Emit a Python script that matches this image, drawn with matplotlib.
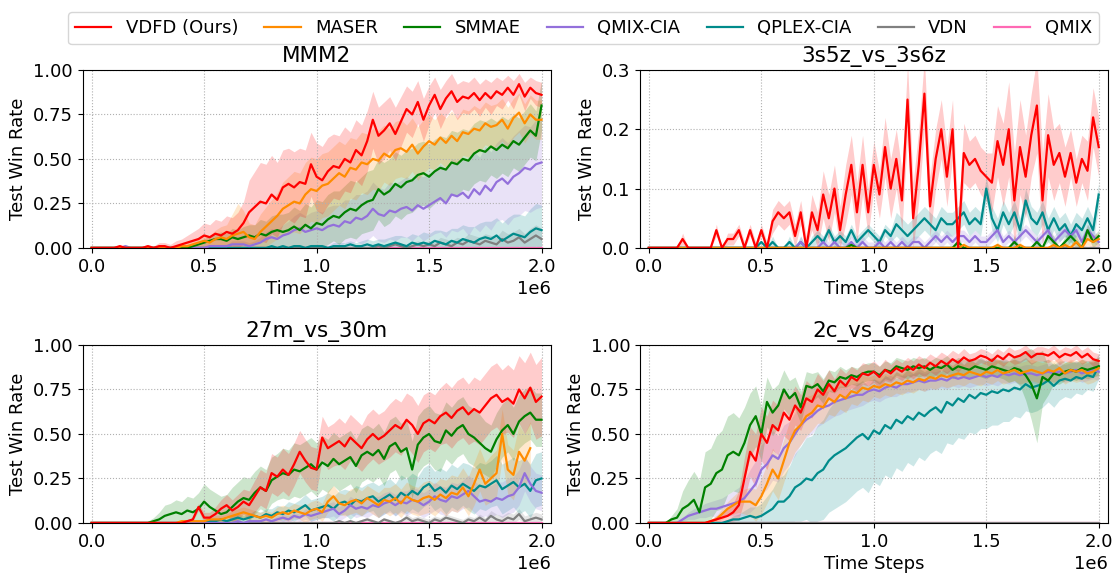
import numpy as np
import matplotlib
matplotlib.use('Agg')
import matplotlib.pyplot as plt

# training steps: one evaluation every 25k steps
steps = np.linspace(0, 2e6, 81)
nan = np.nan

METHODS = ['VDFD (Ours)', 'MASER', 'SMMAE', 'QMIX-CIA', 'QPLEX-CIA', 'VDN', 'QMIX']
COLORS = ['red', 'darkorange', 'green', 'mediumpurple', 'darkcyan', 'gray', 'hotpink']
MAPS = ['MMM2', '3s5z_vs_3s6z', '27m_vs_30m', '2c_vs_64zg']

# ── MMM2 (win rate in %) ──────────────────────────────────────────────────────
mmm2_vdfd = [0,0,0,0,0,1,0,0,0,0, 1,0,1,1,0,1,2,3,4,5, 7,6,8,7,9,8,10,14,20,23,
             26,25,30,27,34,36,34,37,36,47, 40,38,43,46,45,50,48,55,52,60,
             72,63,66,70,64,71,78,75,82,72, 80,86,78,84,88,82,85,84,87,83,
             87,84,88,86,90,86,92,85,90,87, 86]
mmm2_vdfd_sd = [0,0,0,0,0,1,0,1,1,1, 1,1,2,2,2,3,3,4,5,6, 7,7,8,8,9,9,10,12,18,20,
                22,22,22,21,21,20,20,19,19,18, 19,19,19,18,18,18,17,17,17,17,
                16,16,16,15,15,14,13,13,12,12, 11,10,11,10,10,10,9,9,9,9,
                8,9,8,8,7,8,6,8,6,7, 7]
mmm2_maser = [0,0,0,0,0,0,0,0,0,0, 0,0,0,0,0,0,1,1,2,3, 4,3,5,6,5,7,8,9,6,5,
              9,12,15,18,22,24,26,25,30,33, 32,35,36,39,42,40,45,44,48,47,
              50,49,53,51,55,56,54,58,53,57, 60,58,62,59,63,60,65,64,67,66,
              70,68,69,72,67,73,76,70,75,72, 72]
mmm2_maser_sd = [0,0,0,0,0,0,0,0,0,0, 0,0,0,0,1,1,1,2,2,3, 4,4,5,6,8,12,17,12,8,8,
                 10,11,12,13,15,16,17,17,18,18, 18,18,18,18,18,18,17,17,17,17,
                 17,17,16,16,16,16,15,15,15,15, 15,14,14,14,14,13,13,13,13,12,
                 12,12,12,12,12,11,11,11,11,11, 11]
mmm2_smmae = [0,0,0,0,0,0,0,0,0,0, 0,0,0,0,0,0,0,0,1,2, 3,4,5,5,4,6,5,6,7,6,
              8,7,9,10,9,10,12,10,13,11, 14,13,16,18,17,20,22,21,24,26,
              27,33,30,32,36,34,37,38,41,42, 40,43,45,44,48,47,50,49,53,55,
              54,57,55,58,56,60,58,62,66,63, 80]
mmm2_smmae_sd = [0,0,0,0,0,0,0,0,0,0, 0,0,0,0,0,0,0,1,1,1, 2,3,3,4,4,5,5,6,6,7,
                 8,8,9,9,10,10,11,11,12,12, 13,13,14,14,15,15,16,16,16,17,
                 17,17,18,18,18,18,18,18,18,18, 18,18,18,18,18,18,17,17,17,17,
                 17,16,16,16,16,15,15,15,15,14, 14]
mmm2_qmixcia = [0,0,0,0,0,0,1,0,0,0, 0,0,0,0,0,0,0,0,0,0, 0,1,1,1,1,2,2,2,1,2,
                3,5,6,5,7,8,10,11,9,10, 11,10,12,13,12,15,14,17,16,18,
                22,19,18,21,20,22,23,21,24,22, 24,26,28,25,30,29,31,28,33,30,
                35,32,37,39,36,40,42,45,44,47, 48]
mmm2_qmixcia_sd = [0,0,0,0,0,0,1,0,0,0, 0,0,0,0,0,0,0,0,0,0, 0,1,1,1,1,2,2,2,2,2,
                   3,4,5,5,6,7,8,9,9,10, 10,10,11,11,12,12,13,13,14,14,
                   15,15,15,16,16,16,17,17,17,18, 18,18,19,19,20,20,20,21,21,21,
                   22,22,22,23,23,23,24,24,24,25, 25]
mmm2_qplexcia = [0,0,0,0,0,0,0,0,0,0, 0,0,0,0,0,0,0,0,0,0, 0,0,0,0,0,0,0,0,0,0,
                 0,0,1,0,1,0,1,1,0,1, 1,1,0,1,1,1,2,1,1,2,
                 1,2,1,2,3,2,1,3,2,3, 2,4,3,2,4,3,5,4,3,5,
                 6,5,7,4,6,8,7,6,9,11, 10]
mmm2_qplexcia_sd = [0,0,0,0,0,0,0,0,0,0, 0,0,0,0,0,0,0,0,0,0, 0,0,0,0,0,0,0,0,0,0,
                    0,0,1,1,1,1,1,1,1,1, 1,1,1,2,2,2,2,2,3,3,
                    3,3,4,4,4,5,5,5,5,6, 6,6,7,7,7,8,8,8,9,9,
                    9,10,10,10,11,11,12,12,13,14, 14]
mmm2_vdn = [0,0,0,0,0,0,0,0,0,0, 0,0,0,0,0,0,0,0,0,0, 0,0,0,0,0,0,0,0,0,0,
            0,0,0,0,0,0,0,0,0,0, 0,0,0,0,0,0,0,0,0,0,
            0,1,0,1,2,1,0,1,2,1, 2,1,3,2,1,3,2,4,3,2,
            4,3,2,5,3,4,6,3,5,7, 5]
mmm2_vdn_sd = [0,0,0,0,0,0,0,0,0,0, 0,0,0,0,0,0,0,0,0,0, 0,0,0,0,0,0,0,0,0,0,
               0,0,0,0,0,0,0,0,0,0, 0,0,0,0,0,0,0,0,0,0,
               0,1,1,1,2,2,1,2,2,2, 2,2,3,3,3,3,3,4,4,4,
               4,4,4,5,5,5,5,5,6,6, 6]
mmm2_qmix = [0] * 81
mmm2_qmix_sd = [0] * 81

# ── 3s5z_vs_3s6z ──────────────────────────────────────────────────────────────
s5z_vdfd = [0,0,0,0,0,0,1.5,0,0,0, 0,0,3,0,1.5,1.5,3,0,3,0, 3,0,4.5,6,5,6,2,6,0,6,
            3,9,5,10,3,9,14,6,14,6, 14,9,17,10,15,8,25,5,14,26,
            7,15,20,12,20,0,16,14,15,13, 12,11,18,14,20,8,17,12,19,24,
            8,19,14,16,12,16,11,15,13,22, 17]
s5z_vdfd_sd = [0,0,0,0,0,0,1,0,0,0, 0,0,1,0,1,1,1,1,1,1, 1,1,2,2,2,2,2,2,2,3,
               3,4,4,4,4,5,5,5,5,4, 4,4,5,5,5,5,6,6,6,6,
               5,5,5,5,5,5,5,4,4,4, 4,5,6,7,8,8,8,7,7,8,
               8,7,6,5,5,4,4,4,5,5, 5]
s5z_maser = [0,0,0,0,0,0,0,0,0,0, 0,0,0,0,0,0,0,0,0,0, 0,0,0,0,0,0,0,0,0,0,
             0,0,0,0,0,0,0,0,0,0, 0,0,0,0,0,0,0,0,0,0,
             0,0,0,0,0,0,0.5,0,0,0, 0,0,0.5,0,0,0,0.5,0,0,0,
             0,0,0.5,0,0.5,0,1,0,1.5,1, 1.5]
s5z_maser_sd = [0,0,0,0,0,0,0,0,0,0, 0,0,0,0,0,0,0,0,0,0, 0,0,0,0,0,0,0,0,0,0,
                0,0,0,0,0,0,0,0,0,0, 0,0,0,0,0,0,0,0,0,0,
                0,0,0,0,0,0,0.5,0,0,0, 0,0,0.5,0,0,0,0.5,0,0,0,
                0,0,0.5,0.5,0.5,0.5,1,0.5,1,1, 1]
s5z_smmae = [0,0,0,0,0,0,0,0,0,0, 0,0,0,0,0,0,0,0,0,0, 0,0,0,0,0,0,0,0,0,0,
             0,0,0,0,0,0,0.5,0,0,0, 0,0,0,0,0,0,0,0,0,0,
             0,0,0,0,0,1,0,0,0,0, 0,0,0,0,0,1,0,0,0,1,
             0,2,1,0,1,2,1,0,3,1, 2]
s5z_smmae_sd = [0,0,0,0,0,0,0,0,0,0, 0,0,0,0,0,0,0,0,0,0, 0,0,0,0,0,0,0,0,0,0,
                0,0,0,0,0,0,0.5,0,0,0, 0,0,0,0,0,0,0,0,0,0,
                0,0,0,0,0,1,0,0,0,0, 0,0,0,0,0,1,0,0,0,1,
                0,1,1,0,1,1,1,0,1,1, 1]
s5z_qmixcia = [0,0,0,0,0,0,0,0,0,0, 0,0,0,0,0,0,0,0,0,0, 0,0,0,0,0,0,0,1,0,0,
               0,1,0,1,0,0,1,0,1,0, 0,1,0,1,0,1,0,1,1,0,
               1,2,1,2,1,2,2,1,2,1, 1,2,3,1,2,1,2,3,2,1,
               2,3,1,2,3,2,3,1,3,2, 1]
s5z_qmixcia_sd = [0,0,0,0,0,0,0,0,0,0, 0,0,0,0,0,0,0,0,0,0, 0,0,0,0,0,0,0,1,0,0,
                  1,1,1,1,1,1,1,1,1,1, 1,1,1,1,1,1,1,1,1,1,
                  1,1,1,1,1,1,1,1,1,1, 1,1,1,1,1,1,1,1,1,1,
                  1,1,1,1,1,1,1,1,1,1, 1]
s5z_qplexcia = [0,0,0,0,0,0,0,0,0,0, 0,0,0,0,0,0,0,0,0,0, 1,0,1,0,0,1,0,1,0,1,
                2,1,3,1,2,1,3,1,2,3, 2,1,3,2,4,3,2,3,4,5,
                4,3,5,4,4,5,6,4,5,4, 10,5,3,6,4,6,3,8,5,4,
                6,3,5,3,4,2,4,3,5,3, 9]
s5z_qplexcia_sd = [0,0,0,0,0,0,0,0,0,0, 0,0,0,0,0,0,0,0,0,0, 0,0,1,0,0,1,0,1,0,1,
                   1,1,1,1,1,1,1,1,1,1, 1,1,1,1,2,2,2,2,2,2,
                   2,2,2,2,2,2,2,2,2,2, 2,2,2,2,2,2,2,2,2,2,
                   2,2,2,2,2,2,2,2,2,2, 2]
s5z_vdn = [0] * 81
s5z_vdn_sd = [0] * 81
s5z_qmix = [0] * 81
s5z_qmix_sd = [0] * 81

# ── 27m_vs_30m ────────────────────────────────────────────────────────────────
m27_vdfd = [0,0,0,0,0,0,0,0,0,0, 0,0,0,0,0,0,0,1,2,9, 3,3,5,8,10,7,9,12,10,15,
            20,18,28,26,30,27,33,40,35,31, 30,48,42,44,46,43,48,45,42,47,
            50,47,49,52,55,53,58,55,50,56, 58,56,60,62,59,63,65,61,64,62,
            66,70,72,68,70,67,75,70,76,68, 71]
m27_vdfd_sd = [0,0,0,0,0,0,0,0,0,0, 0,0,0,0,0,0,0,1,1,2, 3,3,4,5,6,6,7,7,8,9,
               10,10,11,11,12,12,12,12,12,12, 12,12,12,12,13,13,13,13,13,14,
               14,14,14,15,15,15,15,16,16,16, 16,16,16,17,17,17,17,17,18,18,
               18,18,18,18,19,19,19,20,20,21, 22]
m27_maser = [0,0,0,0,0,0,0,0,0,0, 0,0,0,0,0,0,1,1,1,1, 1,2,2,2,3,4,5,6,5,4,
             3,4,3,5,6,5,7,6,5,7, 8,6,12,15,11,10,12,13,11,14,
             12,10,13,12,14,11,15,13,12,14, 15,13,16,14,17,16,20,15,22,30,
             22,25,28,50,30,27,40,35,42,nan, nan]
m27_maser_sd = [0,0,0,0,0,0,0,0,0,0, 0,0,0,0,0,0,1,1,1,1, 1,1,2,2,2,3,3,3,3,3,
                3,3,3,4,4,4,4,4,5,5, 5,5,6,6,6,6,7,7,7,7,
                7,7,7,8,8,8,8,8,8,9, 9,9,9,10,10,10,11,11,12,12,
                12,13,13,14,14,14,15,15,15,nan, nan]
m27_smmae = [0,0,0,0,0,0,0,0,0,0, 0,1,2,4,5,6,5,7,6,8, 12,9,7,5,6,9,12,14,13,17,
             20,18,24,26,28,27,30,29,31,33, 30,34,32,36,33,35,37,32,38,40,
             38,41,36,43,45,40,42,30,44,48, 50,46,45,52,49,53,55,50,48,45,
             42,40,47,52,55,50,57,60,62,58, 58]
m27_smmae_sd = [0,0,0,0,0,0,0,0,0,0, 1,2,4,6,6,7,7,8,8,9, 10,10,10,10,10,11,11,12,12,12,
                12,12,13,13,14,14,15,15,15,15, 15,15,15,15,15,15,15,15,15,15,
                15,15,15,15,15,16,16,16,16,16, 16,16,16,16,16,16,16,16,16,16,
                15,15,15,15,15,15,15,15,15,15, 15]
m27_qmixcia = [0,0,0,0,0,0,0,0,0,0, 0,0,0,0,0,0,0,0,0,0, 0,0,0,0,0,0,1,0,1,1,
               1,2,1,2,3,2,4,3,5,4, 5,6,7,8,5,7,10,8,9,8,
               10,9,11,12,10,12,11,13,12,10, 12,15,13,12,15,14,16,18,15,12,
               13,12,14,13,15,16,20,28,22,18, 17]
m27_qmixcia_sd = [0,0,0,0,0,0,0,0,0,0, 0,0,0,0,0,0,0,0,0,0, 0,0,0,0,0,0,1,1,1,1,
                  1,1,1,2,2,2,2,2,3,3, 3,3,4,4,4,4,5,5,5,5,
                  5,6,6,6,6,6,7,7,7,7, 7,8,8,8,8,8,8,9,9,9,
                  9,9,9,10,10,10,10,10,10,10, 10]
m27_qplexcia = [0,0,0,0,0,0,0,0,0,0, 0,0,0,0,0,0,0,0,0,0, 0,1,1,2,1,2,3,2,3,4,
                3,5,4,6,5,7,6,8,10,7, 8,9,10,8,11,12,10,13,12,14,
                15,12,14,16,13,17,15,18,16,20, 22,18,20,17,21,19,22,20,18,21,
                20,22,24,19,21,23,20,22,18,24, 25]
m27_qplexcia_sd = [0,0,0,0,0,0,0,0,0,0, 0,0,0,0,0,0,0,0,0,0, 0,1,1,1,1,2,2,2,2,3,
                   3,3,4,4,4,5,5,5,6,6, 6,6,7,7,7,7,8,8,8,8,
                   8,9,9,9,9,10,10,10,10,11, 11,11,11,12,12,12,12,13,13,13,
                   13,13,14,14,14,14,15,15,15,15, 15]
m27_vdn = [0,0,0,0,0,0,0,0,0,0, 0,0,0,0,0,0,0,0,0,0, 0,0,0,0,0,0,0,0,0,0,
           0,0,0,0,0,0,0,0,0,0, 0,0,0,0,1,0,1,0,1,2,
           1,0,2,1,0,1,3,1,2,1, 0,2,1,3,2,1,0,2,1,3,
           1,4,2,1,3,2,5,1,2,3, 2]
m27_vdn_sd = [0,0,0,0,0,0,0,0,0,0, 0,0,0,0,0,0,0,0,0,0, 0,0,0,0,0,0,0,0,0,0,
              0,0,0,0,0,0,0,0,0,0, 0,0,0,0,1,1,1,1,1,1,
              1,1,1,1,1,1,2,2,2,2, 2,2,2,2,2,2,2,2,2,2,
              2,3,3,3,3,3,3,3,3,3, 3]
m27_qmix = [0] * 81
m27_qmix_sd = [0] * 81

# ── 2c_vs_64zg ────────────────────────────────────────────────────────────────
c2_vdfd = [0,0,0,0,0,0,0,0,0,0, 0,1,2,3,4,6,10,25,40,35, 50,45,55,52,62,58,66,62,70,68,
           75,72,78,74,80,77,82,80,84,83, 85,82,86,84,87,85,88,86,89,87,
           90,88,91,89,92,90,93,91,92,94, 93,91,94,92,95,93,94,96,93,95,
           95,94,96,93,95,94,96,93,95,92, 91]
c2_vdfd_sd = [0,0,0,0,0,0,0,0,0,0, 0,1,2,3,4,5,8,12,14,15, 15,15,14,14,13,12,11,10,10,9,
              9,8,8,7,7,7,6,6,6,6, 6,6,6,5,5,5,5,5,5,5,
              5,5,5,5,5,5,5,4,4,4, 4,4,4,4,4,4,4,4,4,4,
              4,4,4,4,4,4,4,4,4,4, 4]
c2_maser = [0,0,0,0,0,0,0,0,0,0, 0,1,2,5,8,10,12,12,12,10, 15,22,30,25,35,45,52,55,60,62,
            66,65,70,68,72,70,74,73,76,75, 77,76,78,77,79,78,80,79,81,80,
            82,81,83,82,83,84,83,85,84,83, 85,84,86,84,85,86,84,85,86,85,
            84,86,85,87,84,86,85,86,84,85, 87]
c2_maser_sd = [0,0,0,0,0,0,0,0,0,0, 0,1,2,3,4,5,6,7,8,9, 10,11,12,12,12,12,12,11,11,10,
               10,9,9,8,8,8,7,7,7,7, 6,6,6,6,6,6,6,6,6,6,
               6,6,6,6,6,6,6,6,6,6, 6,6,6,6,6,6,6,6,6,6,
               6,6,6,6,6,6,6,6,6,6, 6]
c2_smmae = [0,0,0,0,2,3,8,10,13,6, 20,22,28,30,38,40,38,45,55,60, 50,68,62,66,75,70,73,65,77,76,
            78,74,80,79,82,81,83,82,84,85, 85,83,86,85,88,87,86,88,87,88,
            86,88,87,89,86,88,87,86,88,87, 86,88,87,86,85,87,86,83,78,70,
            82,80,84,83,85,86,85,87,86,87, 88]
c2_smmae_sd = [0,0,0,0,2,5,10,14,16,18, 20,20,21,22,22,22,21,20,18,17, 15,14,13,12,11,10,9,9,8,8,
               7,7,6,6,6,5,5,5,5,5, 5,5,5,5,5,5,5,5,5,5,
               5,5,5,5,5,5,5,5,5,5, 5,5,5,5,6,7,9,14,20,25,
               15,8,6,5,5,5,5,5,5,5, 5]
c2_qmixcia = [0,0,0,0,0,0,2,4,5,6, 7,8,8,9,10,11,12,14,18,22, 30,33,38,36,42,45,50,55,58,60,
              63,65,66,68,69,70,71,72,72,74, 75,74,76,77,76,78,78,79,80,79,
              80,80,81,80,82,81,82,81,82,83, 82,83,82,84,83,84,83,84,84,83,
              84,85,84,85,84,85,86,84,85,86, 85]
c2_qmixcia_sd = [0,0,0,0,0,0,1,2,3,3, 4,4,5,5,6,7,8,10,12,13, 14,14,14,13,13,12,12,11,10,10,
                 9,9,8,8,8,7,7,7,6,6, 6,6,6,6,5,5,5,5,5,5,
                 5,5,5,5,5,5,5,5,5,5, 5,5,5,5,5,5,5,5,5,5,
                 5,5,5,5,5,5,5,5,5,5, 5]
c2_qplexcia = [0,0,0,0,0,0,0,0,0,0, 0,0,0,0,1,2,2,3,4,3, 4,6,8,12,12,15,20,22,25,24,
               28,30,35,38,40,42,45,48,50,47, 52,50,55,53,58,56,60,58,62,60,
               63,65,62,68,66,70,68,72,70,73, 72,74,73,75,74,76,75,78,76,77,
               78,80,77,80,81,80,82,81,83,82, 88]
c2_qplexcia_sd = [0,0,0,0,0,0,0,0,0,0, 0,0,0,0,1,2,3,4,5,6, 7,9,11,13,15,17,19,21,23,25,
                  27,28,29,30,30,30,30,30,30,30, 29,29,28,28,27,27,26,26,25,25,
                  24,24,23,23,22,22,21,21,20,20, 19,19,18,18,17,16,16,15,14,14,
                  13,12,12,11,10,10,9,9,8,8, 7]
c2_vdn = [0] * 81
c2_vdn_sd = [0] * 81
c2_qmix = [0] * 81
c2_qmix_sd = [0] * 81

panels = [
    (MAPS[0], [mmm2_vdfd, mmm2_maser, mmm2_smmae, mmm2_qmixcia, mmm2_qplexcia, mmm2_vdn, mmm2_qmix],
     [mmm2_vdfd_sd, mmm2_maser_sd, mmm2_smmae_sd, mmm2_qmixcia_sd, mmm2_qplexcia_sd, mmm2_vdn_sd, mmm2_qmix_sd],
     [0, 0.25, 0.5, 0.75, 1.0], '%.2f'),
    (MAPS[1], [s5z_vdfd, s5z_maser, s5z_smmae, s5z_qmixcia, s5z_qplexcia, s5z_vdn, s5z_qmix],
     [s5z_vdfd_sd, s5z_maser_sd, s5z_smmae_sd, s5z_qmixcia_sd, s5z_qplexcia_sd, s5z_vdn_sd, s5z_qmix_sd],
     [0, 0.1, 0.2, 0.3], '%.1f'),
    (MAPS[2], [m27_vdfd, m27_maser, m27_smmae, m27_qmixcia, m27_qplexcia, m27_vdn, m27_qmix],
     [m27_vdfd_sd, m27_maser_sd, m27_smmae_sd, m27_qmixcia_sd, m27_qplexcia_sd, m27_vdn_sd, m27_qmix_sd],
     [0, 0.25, 0.5, 0.75, 1.0], '%.2f'),
    (MAPS[3], [c2_vdfd, c2_maser, c2_smmae, c2_qmixcia, c2_qplexcia, c2_vdn, c2_qmix],
     [c2_vdfd_sd, c2_maser_sd, c2_smmae_sd, c2_qmixcia_sd, c2_qplexcia_sd, c2_vdn_sd, c2_qmix_sd],
     [0, 0.25, 0.5, 0.75, 1.0], '%.2f'),
]

plt.rcParams['font.family'] = 'DejaVu Sans'
fig, axes = plt.subplots(2, 2, figsize=(11.17, 5.73), dpi=100)
plt.subplots_adjust(left=0.074, right=0.9917, top=0.878, bottom=0.0873, wspace=0.191, hspace=0.545)

handles = [None] * len(METHODS)
for ax, (title, means, sds, yt, yfmt) in zip(axes.flatten(), panels):
    # draw baselines first so VDFD ends up on top
    for k in reversed(range(len(METHODS))):
        m = np.array(means[k], dtype=float) / 100
        s = np.array(sds[k], dtype=float) / 100
        ax.fill_between(steps, np.clip(m - s, 0, None), m + s,
                        color=COLORS[k], alpha=0.2, linewidth=0)
        ln, = ax.plot(steps, m, color=COLORS[k], linewidth=1.6, label=METHODS[k])
        handles[k] = ln
    ax.set_title(title, fontsize=15.5)
    ax.set_xlim(-0.04e6, 2.04e6)
    ax.set_ylim(yt[0], yt[-1])
    ax.set_yticks(yt)
    ax.set_yticklabels([yfmt % v for v in yt])
    ax.set_xticks([0, 0.5e6, 1e6, 1.5e6, 2e6])
    ax.grid(True, linestyle=':', color='#b0b0b0', linewidth=0.8)
    ax.set_xlabel('Time Steps', fontsize=13, labelpad=3)
    ax.set_ylabel('Test Win Rate', fontsize=13)
    ax.tick_params(labelsize=13)
    ax.xaxis.get_offset_text().set_fontsize(13)

fig.legend(handles, METHODS, loc='upper center', bbox_to_anchor=(0.5225, 0.995),
           ncol=7, fontsize=13, frameon=True, handlelength=2.0, columnspacing=1.45)

plt.savefig('out.png', dpi=100)
plt.close()
